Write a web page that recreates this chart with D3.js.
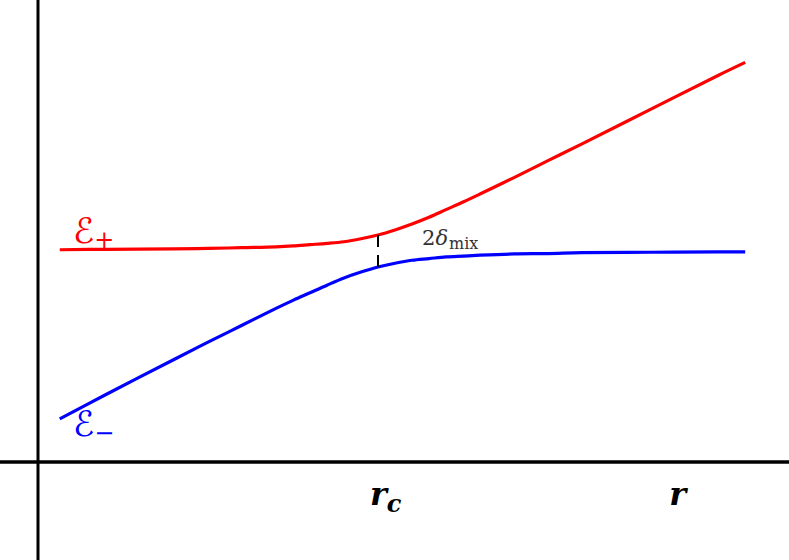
<!DOCTYPE html>
<html><head><meta charset="utf-8">
<script src="https://cdn.jsdelivr.net/npm/d3@7"></script>
<style>html,body{margin:0;padding:0;background:#fff;overflow:hidden}</style>
</head><body>
<script>
// r positions (arbitrary units), r_c = 5
const rValues = [0.32, 1, 2, 2.5, 3, 3.5, 3.75, 4, 4.25, 4.5, 4.75, 5, 5.25, 5.5, 5.75, 6, 6.25, 6.5, 7, 7.5, 8, 9, 10, 10.4];
// upper branch E+ (red)
const ePlus  = [5.03, 5.04, 5.05, 5.06, 5.08, 5.10, 5.12, 5.15, 5.18, 5.22, 5.29, 5.38, 5.50, 5.64, 5.80, 5.98, 6.16, 6.35, 6.74, 7.14, 7.54, 8.35, 9.16, 9.47];
// lower branch E- (blue)
const eMinus = [1.02, 1.60, 2.43, 2.84, 3.24, 3.64, 3.83, 4.01, 4.19, 4.36, 4.50, 4.62, 4.71, 4.78, 4.82, 4.86, 4.88, 4.90, 4.93, 4.94, 4.96, 4.97, 4.98, 4.98];
const rCross = 5;
const tickLabels = [{v: 5, t: "r", sub: "c"}, {v: 9.4, t: "r", sub: ""}];

const W = 789, H = 560;
const svg = d3.select("body").append("svg").attr("width", W).attr("height", H);

const x = d3.scaleLinear().domain([0, 10]).range([38, 718]);
const y = d3.scaleLinear().domain([0, 10]).range([462, 40]);

// axes
svg.append("line").attr("x1", x(0)).attr("x2", x(0)).attr("y1", 0).attr("y2", H)
  .attr("stroke", "#000").attr("stroke-width", 3);
svg.append("line").attr("x1", 0).attr("x2", W).attr("y1", y(0)).attr("y2", y(0))
  .attr("stroke", "#000").attr("stroke-width", 3.5);

const line = d3.line().x(d => x(d[0])).y(d => y(d[1])).curve(d3.curveCatmullRom);
svg.append("path").datum(rValues.map((r, i) => [r, ePlus[i]]))
  .attr("d", line).attr("fill", "none").attr("stroke", "#ff0000").attr("stroke-width", 3.2);
svg.append("path").datum(rValues.map((r, i) => [r, eMinus[i]]))
  .attr("d", line).attr("fill", "none").attr("stroke", "#0000ff").attr("stroke-width", 3.2);

// gap marker
const iC = rValues.indexOf(rCross);
svg.append("line").attr("x1", x(rCross)).attr("x2", x(rCross))
  .attr("y1", y(ePlus[iC])).attr("y2", y(eMinus[iC]))
  .attr("stroke", "#000").attr("stroke-width", 2).attr("stroke-dasharray", "12,8");

// labels
const ep = svg.append("text").attr("x", 73).attr("y", 243).attr("fill", "#ff0000")
  .attr("font-family", "DejaVu Sans").attr("font-style", "italic").attr("font-size", 35);
ep.append("tspan").text("ℰ");
ep.append("tspan").attr("font-family", "DejaVu Serif").attr("font-style", "normal").attr("font-size", 24).attr("dy", 5).text("+");

const em = svg.append("text").attr("x", 73).attr("y", 436).attr("fill", "#0000ff")
  .attr("font-family", "DejaVu Sans").attr("font-style", "italic").attr("font-size", 35);
em.append("tspan").text("ℰ");
em.append("tspan").attr("font-family", "DejaVu Serif").attr("font-style", "normal").attr("font-size", 24).attr("dy", 5).text("−");

const dl = svg.append("text").attr("x", 422).attr("y", 245).attr("fill", "#333")
  .attr("font-family", "DejaVu Serif").attr("font-size", 21);
dl.append("tspan").text("2");
dl.append("tspan").attr("font-style", "italic").text("δ");
dl.append("tspan").attr("font-size", 16).attr("dy", 4).attr("dx", 1).text("mix");

tickLabels.forEach(d => {
  const t = svg.append("text").attr("x", x(d.v) - 8).attr("y", 505).attr("fill", "#000")
    .attr("font-family", "DejaVu Serif").attr("font-weight", "bold").attr("font-style", "italic")
    .attr("font-size", 32);
  t.append("tspan").text(d.t);
  if (d.sub) t.append("tspan").attr("font-size", 24).attr("dy", 7).text(d.sub);
});
</script>
</body></html>
